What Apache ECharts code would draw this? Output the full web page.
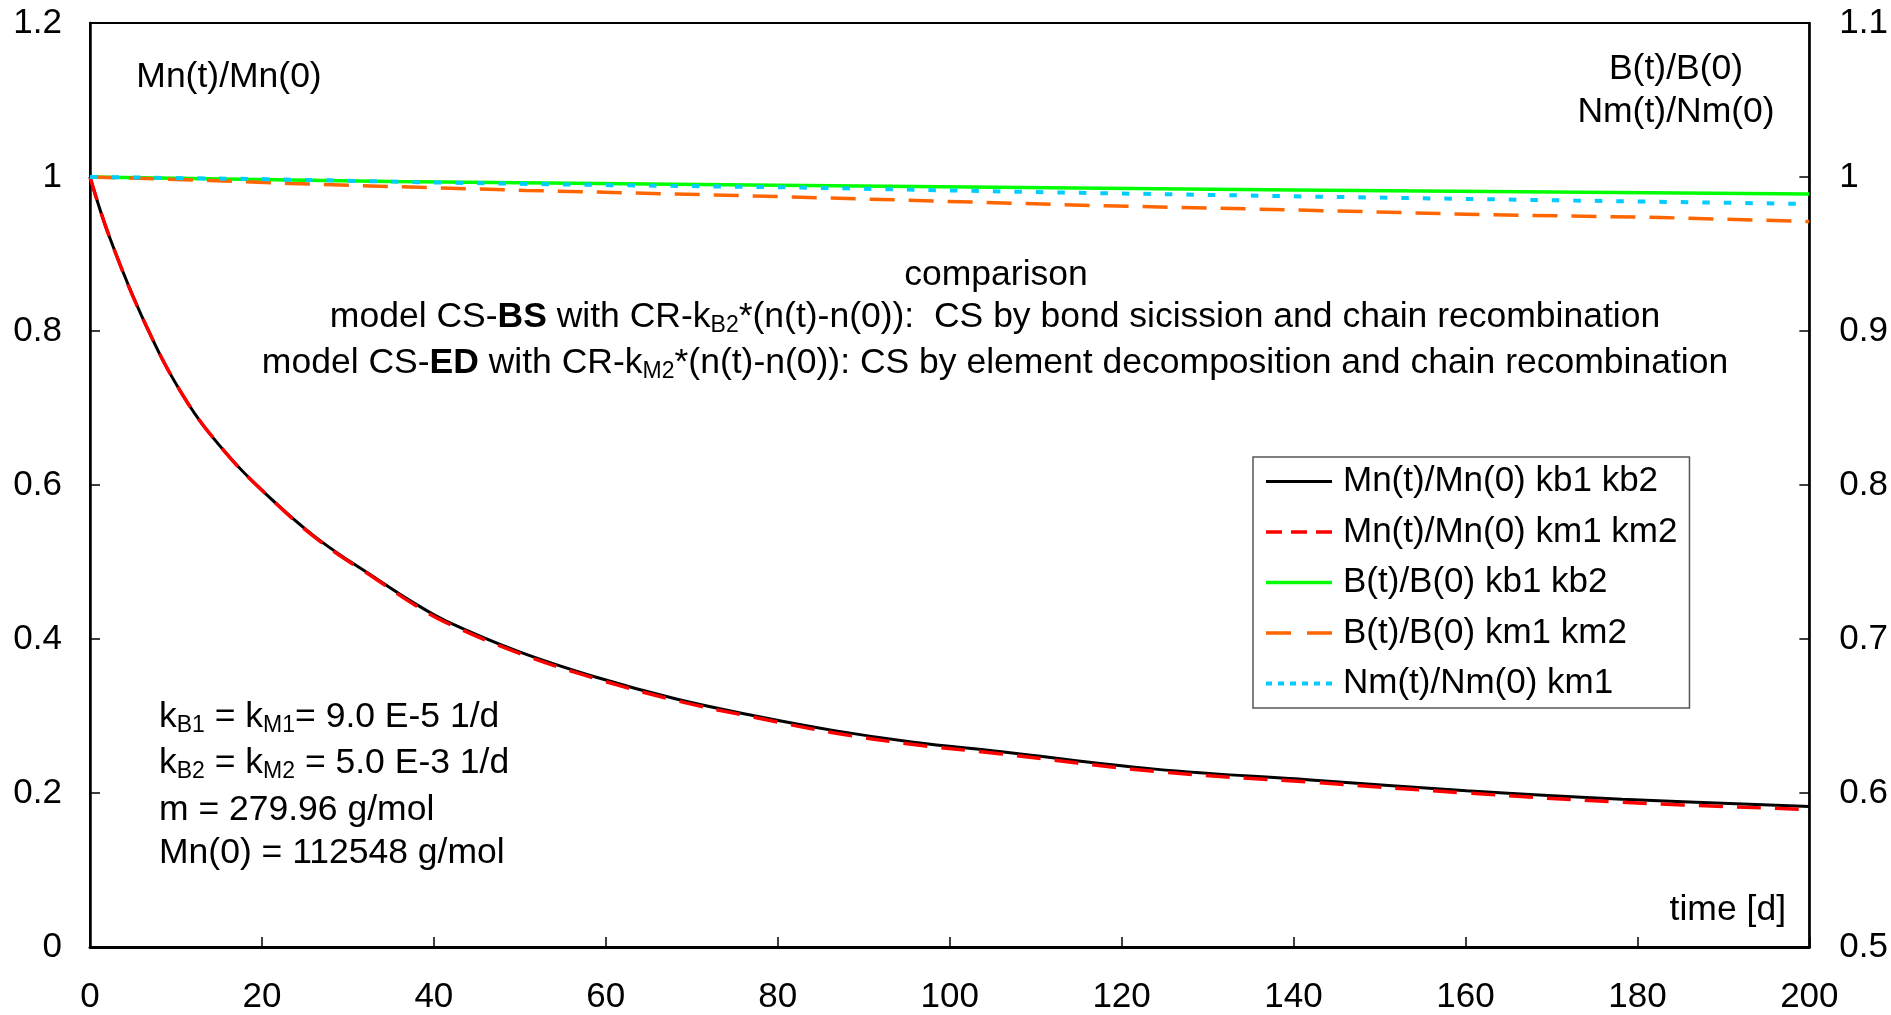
<!DOCTYPE html>
<html>
<head>
<meta charset="utf-8">
<script src="https://cdn.jsdelivr.net/npm/echarts@6/dist/echarts.min.js"></script>
<style>
  html, body { margin: 0; padding: 0; background: #fff; }
  #chart { width: 1891px; height: 1015px; }
</style>
</head>
<body>
<div id="chart"></div>
<script>
var FONT = "'Liberation Sans', Arial, sans-serif";

// Mn(t)/Mn(0), left axis
var mnTime = [0, 2.3, 6.4, 11, 15.7, 20.3, 26.5, 33.5, 37.8, 41.5, 49.8, 59, 68.2, 77.4, 86.6, 95.8, 105.8, 123.9, 142, 160.1, 178.2, 200];
var mnKb = [1, 0.921, 0.81, 0.713, 0.643, 0.59, 0.53, 0.477, 0.446, 0.423, 0.384, 0.35, 0.322, 0.3, 0.281, 0.266, 0.254, 0.231, 0.217, 0.203, 0.192, 0.1825];
var mnKm = [1, 0.921, 0.81, 0.713, 0.643, 0.59, 0.529, 0.476, 0.444, 0.421, 0.382, 0.348, 0.32, 0.298, 0.278, 0.263, 0.251, 0.228, 0.214, 0.2, 0.188, 0.1785];

// B(t)/B(0) and Nm(t)/Nm(0), right axis
var bKbTime = [0, 35, 80, 140, 200];
var bKb = [1, 0.9971, 0.9947, 0.9916, 0.9889];
var bKmTime = [0, 13.9, 23.2, 35, 50.7, 80.2, 116.4, 139.5, 162.6, 182.7, 200];
var bKm = [1, 0.9978, 0.9958, 0.9938, 0.9913, 0.9873, 0.9815, 0.9787, 0.9755, 0.9737, 0.9711];
var nmTime = [0, 20.4, 40.6, 60.6, 80.2, 111, 141.9, 172.7, 200];
var nmKm = [1, 0.9986, 0.9964, 0.9947, 0.9934, 0.9901, 0.9873, 0.9847, 0.9825];

var names = ['Mn(t)/Mn(0) kb1 kb2', 'Mn(t)/Mn(0) km1 km2', 'B(t)/B(0) kb1 kb2', 'B(t)/B(0) km1 km2', 'Nm(t)/Nm(0) km1'];

function pairs(t, v) {
  return t.map(function (x, i) { return [x, v[i]]; });
}

var myChart = echarts.init(document.getElementById('chart'));

var sub = { fontSize: 23, lineHeight: 23, verticalAlign: 'bottom', fontFamily: FONT, fill: '#000' };
var bold = { fontSize: 35.5, lineHeight: 40, fontWeight: 'bold', fontFamily: FONT, fill: '#000' };

function label(x, y, text, align) {
  return {
    type: 'text', x: x, y: y, z: 50,
    style: {
      text: text, fill: '#000', fontSize: 35.5, lineHeight: 40, fontFamily: FONT,
      align: align || 'left', verticalAlign: 'middle',
      rich: { s: sub, b: bold }
    }
  };
}

var option = {
  animation: false,
  backgroundColor: '#fff',
  grid: {
    left: 90, right: 80, top: 23, bottom: 67,
    show: true, borderColor: '#000', borderWidth: 2
  },
  legend: {
    orient: 'vertical',
    left: 1253, top: 457,
    padding: [7, 12, 7, 11],
    backgroundColor: '#fff',
    borderColor: '#555',
    borderWidth: 1.5,
    borderRadius: 0,
    itemWidth: 66,
    itemHeight: 14,
    itemGap: 15.5,
    selectedMode: false,
    itemStyle: { opacity: 0, borderWidth: 0 },
    textStyle: { color: '#000', fontSize: 35, lineHeight: 34, fontFamily: FONT, padding: [0, 0, 0, 6] },
    data: [
      { name: names[0], lineStyle: { type: 'solid', width: 3 } },
      { name: names[1], lineStyle: { type: [16, 9], width: 3.5 } },
      { name: names[2], lineStyle: { type: 'solid', width: 3.5 } },
      { name: names[3], lineStyle: { type: [25, 16], width: 3.5 } },
      { name: names[4], lineStyle: { type: [6, 6], width: 4 } }
    ]
  },
  xAxis: {
    type: 'value', min: 0, max: 200, interval: 20,
    axisLine: { lineStyle: { color: '#000', width: 3 } },
    axisTick: { inside: true, length: 10, lineStyle: { color: '#000', width: 1.5 } },
    axisLabel: { color: '#000', fontSize: 35, fontFamily: FONT, margin: 33 },
    splitLine: { show: false }
  },
  yAxis: [
    {
      type: 'value', min: 0, max: 1.2, interval: 0.2,
      axisLine: { show: true, lineStyle: { color: '#000', width: 2.5 } },
      axisTick: { show: true, inside: true, length: 10, lineStyle: { color: '#000', width: 1.5 } },
      axisLabel: { color: '#000', fontSize: 35, fontFamily: FONT, margin: 28 },
      splitLine: { show: false }
    },
    {
      type: 'value', min: 0.5, max: 1.1, interval: 0.1, position: 'right',
      axisLine: { show: true, lineStyle: { color: '#000', width: 2.5 } },
      axisTick: { show: true, inside: true, length: 10, lineStyle: { color: '#000', width: 1.5 } },
      axisLabel: { color: '#000', fontSize: 35, fontFamily: FONT, margin: 30 },
      splitLine: { show: false }
    }
  ],
  series: [
    {
      name: names[0], type: 'line', yAxisIndex: 0, symbol: 'none', showSymbol: false,
      smooth: 0.4, z: 2,
      lineStyle: { color: '#000', width: 3 }, itemStyle: { color: '#000' },
      data: pairs(mnTime, mnKb)
    },
    {
      name: names[1], type: 'line', yAxisIndex: 0, symbol: 'none', showSymbol: false,
      smooth: 0.4, z: 3,
      lineStyle: { color: '#ff0000', width: 3.5, type: [24, 14] }, itemStyle: { color: '#ff0000' },
      data: pairs(mnTime, mnKm)
    },
    {
      name: names[2], type: 'line', yAxisIndex: 1, symbol: 'none', showSymbol: false, z: 2,
      lineStyle: { color: '#00ff00', width: 3.5 }, itemStyle: { color: '#00ff00' },
      data: pairs(bKbTime, bKb)
    },
    {
      name: names[3], type: 'line', yAxisIndex: 1, symbol: 'none', showSymbol: false, z: 3,
      lineStyle: { color: '#ff6600', width: 3.5, type: [25, 14] }, itemStyle: { color: '#ff6600' },
      data: pairs(bKmTime, bKm)
    },
    {
      name: names[4], type: 'line', yAxisIndex: 1, symbol: 'none', showSymbol: false, z: 4,
      lineStyle: { color: '#00ccff', width: 4, type: [7.5, 14] }, itemStyle: { color: '#00ccff' },
      data: pairs(nmTime, nmKm)
    }
  ],
  graphic: [
    label(229, 77, 'Mn(t)/Mn(0)', 'center'),
    label(1676, 69, 'B(t)/B(0)', 'center'),
    label(1676, 112, 'Nm(t)/Nm(0)', 'center'),
    label(996, 275, 'comparison', 'center'),
    label(995, 317, 'model CS-{b|BS} with CR-k{s|B2}*(n(t)-n(0)):  CS by bond sicission and chain recombination', 'center'),
    label(995, 363, 'model CS-{b|ED} with CR-k{s|M2}*(n(t)-n(0)): CS by element decomposition and chain recombination', 'center'),
    label(159, 717, 'k{s|B1} = k{s|M1}= 9.0 E-5 1/d'),
    label(159, 763, 'k{s|B2} = k{s|M2} = 5.0 E-3 1/d'),
    label(159, 810, 'm = 279.96 g/mol'),
    label(159, 853, 'Mn(0) = 112548 g/mol'),
    label(1786, 910, 'time [d]', 'right')
  ]
};

myChart.setOption(option);
window.onresize = function () { myChart.resize(); };
</script>
</body>
</html>
